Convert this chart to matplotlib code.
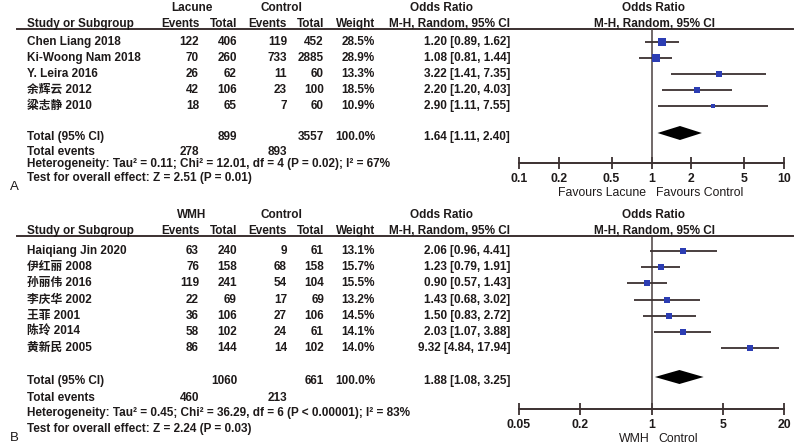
import numpy as np
import matplotlib
matplotlib.use("Agg")
import matplotlib.pyplot as plt
from matplotlib.patches import Polygon

plt.rcParams['font.family'] = ['Liberation Sans', 'Noto Sans CJK SC', 'DejaVu Sans']

# ---- data, panel A (lacune) ----
studies_a = ["Chen Liang 2018", "Ki-Woong Nam 2018", "Y. Leira 2016", "余辉云 2012", "粱志静 2010"]
ev_a = [122, 70, 26, 42, 18]
tot_a = [406, 260, 62, 106, 65]
ev_ca = [119, 733, 11, 23, 7]
tot_ca = [452, 2885, 60, 100, 60]
weight_a = [28.5, 28.9, 13.3, 18.5, 10.9]
or_a = [1.20, 1.08, 3.22, 2.20, 2.90]
lo_a = [0.89, 0.81, 1.41, 1.20, 1.11]
hi_a = [1.62, 1.44, 7.35, 4.03, 7.55]
pooled_a = (1.64, 1.11, 2.40)
het_a = "Heterogeneity: Tau² = 0.11; Chi² = 12.01, df = 4 (P = 0.02); I² = 67%"
test_a = "Test for overall effect: Z = 2.51 (P = 0.01)"
ticks_a = [0.1, 0.2, 0.5, 1, 2, 5, 10]

# ---- data, panel B (WMH) ----
studies_b = ["Haiqiang Jin 2020", "伊红丽 2008", "孙丽伟 2016", "李庆华 2002", "王菲 2001", "陈玲 2014", "黄新民 2005"]
ev_b = [63, 76, 119, 22, 36, 58, 86]
tot_b = [240, 158, 241, 69, 106, 102, 144]
ev_cb = [9, 68, 54, 17, 27, 24, 14]
tot_cb = [61, 158, 104, 69, 106, 61, 102]
weight_b = [13.1, 15.7, 15.5, 13.2, 14.5, 14.1, 14.0]
or_b = [2.06, 1.23, 0.90, 1.43, 1.50, 2.03, 9.32]
lo_b = [0.96, 0.79, 0.57, 0.68, 0.83, 1.07, 4.84]
hi_b = [4.41, 1.91, 1.43, 3.02, 2.72, 3.88, 17.94]
pooled_b = (1.88, 1.08, 3.25)
het_b = "Heterogeneity: Tau² = 0.45; Chi² = 36.29, df = 6 (P < 0.00001); I² = 83%"
test_b = "Test for overall effect: Z = 2.24 (P = 0.03)"
ticks_b = [0.05, 0.2, 1, 5, 20]

TXT = '#1e1a1a'
LINE = '#3b3030'
BLUE = '#2c3db3'
FS = 8.45
W, H = 800, 448

fig = plt.figure(figsize=(8, 4.48), dpi=100)
bg = fig.add_axes([0, 0, 1, 1])
bg.set_xlim(0, W)
bg.set_ylim(H, 0)
bg.axis('off')


def t(x, y, s, ha='left', bold=True, size=FS):
    bg.text(x, y, s, ha=ha, va='center', fontsize=size, color=TXT,
            fontweight='bold' if bold else 'normal')


def panel(top, grp, studies, ev, tot, evc, totc, wt, orr, lo, hi, pooled,
          het, test, ticks, xlim, axis_y, row0, step, tot_y, lab, fav):
    # headers
    t(192, top, grp, ha='center')
    t(281, top, "Control", ha='center')
    t(442, top, "Odds Ratio", ha='center')
    t(654, top, "Odds Ratio", ha='center')
    h2 = top + 16
    t(27, h2, "Study or Subgroup")
    t(200, h2, "Events", ha='right')
    t(237, h2, "Total", ha='right')
    t(287, h2, "Events", ha='right')
    t(324, h2, "Total", ha='right')
    t(375, h2, "Weight", ha='right')
    t(510, h2, "M-H, Random, 95% CI", ha='right')
    t(654, h2, "M-H, Random, 95% CI", ha='center')
    line_y = h2 + 5.5
    bg.plot([17, 793], [line_y, line_y], color=LINE, lw=1.4)

    rows = [row0 + i * step for i in range(len(studies))]
    for i, y in enumerate(rows):
        t(27, y, studies[i])
        t(199, y, str(ev[i]), ha='right')
        t(237, y, str(tot[i]), ha='right')
        t(287, y, str(evc[i]), ha='right')
        t(324, y, str(totc[i]), ha='right')
        t(375, y, "%.1f%%" % wt[i], ha='right')
        t(510, y, "%.2f [%.2f, %.2f]" % (orr[i], lo[i], hi[i]), ha='right')

    t(27, tot_y[0], "Total (95% CI)")
    t(237, tot_y[0], str(sum(tot)), ha='right')
    t(324, tot_y[0], str(sum(totc)), ha='right')
    t(375, tot_y[0], "100.0%", ha='right')
    t(510, tot_y[0], "%.2f [%.2f, %.2f]" % pooled, ha='right')
    t(27, tot_y[1], "Total events")
    t(199, tot_y[1], str(sum(ev)), ha='right')
    t(287, tot_y[1], str(sum(evc)), ha='right')
    t(27, tot_y[2], het)
    t(27, tot_y[3], test)
    t(10, tot_y[4], lab, bold=False, size=9.5)

    # forest axes, pixel-aligned
    x0, x1 = 519, 784
    ax = fig.add_axes([x0 / W, 1 - axis_y / H, (x1 - x0) / W, (axis_y - line_y) / H])
    ax.set_xscale('log')
    ax.set_xlim(*xlim)
    ax.set_ylim(axis_y, line_y)
    ax.patch.set_alpha(0)
    for s in ['top', 'left', 'right']:
        ax.spines[s].set_visible(False)
    ax.spines['bottom'].set_color(LINE)
    ax.spines['bottom'].set_linewidth(1.4)
    ax.set_yticks([])
    ax.set_xticks(ticks)
    ax.set_xticklabels(["%g" % v for v in ticks], fontsize=8.8, fontweight='bold', color=TXT)
    ax.minorticks_off()
    ax.tick_params(axis='x', direction='inout', length=8, width=1.3, color=LINE, pad=3)
    ax.axvline(1, color='#4a4040', lw=1.1)

    for i, y in enumerate(rows):
        ax.plot([lo[i], hi[i]], [y, y], color=LINE, lw=1.3, solid_capstyle='butt')
        ms = 1.4 * np.sqrt(wt[i]) * 0.72
        ax.plot(orr[i], y, marker='s', ms=ms, color=BLUE, mec=BLUE, mew=0)

    est, plo, phi = pooled
    yd = tot_y[0] - 4
    ax.add_patch(Polygon([(plo, yd), (est, yd - 7), (phi, yd), (est, yd + 7)],
                         closed=True, color='black', lw=0))
    fy = axis_y + 30
    for txt, fx in fav:
        t(fx, fy, txt, ha='center', bold=False, size=8.8)


panel(8, "Lacune", studies_a, ev_a, tot_a, ev_ca, tot_ca, weight_a, or_a, lo_a, hi_a,
      pooled_a, het_a, test_a, ticks_a, (0.1, 10), 163, 42, 16,
      [137, 152, 164, 178, 187], "A",
      [("Favours Lacune", 602), ("Favours Control", 700)])

panel(215, "WMH", studies_b, ev_b, tot_b, ev_cb, tot_cb, weight_b, or_b, lo_b, hi_b,
      pooled_b, het_b, test_b, ticks_b, (0.05, 20), 409, 251, 16.2,
      [381, 398, 413, 429, 438], "B",
      [("WMH", 634), ("Control", 678)])

fig.savefig("out.png", dpi=100)
